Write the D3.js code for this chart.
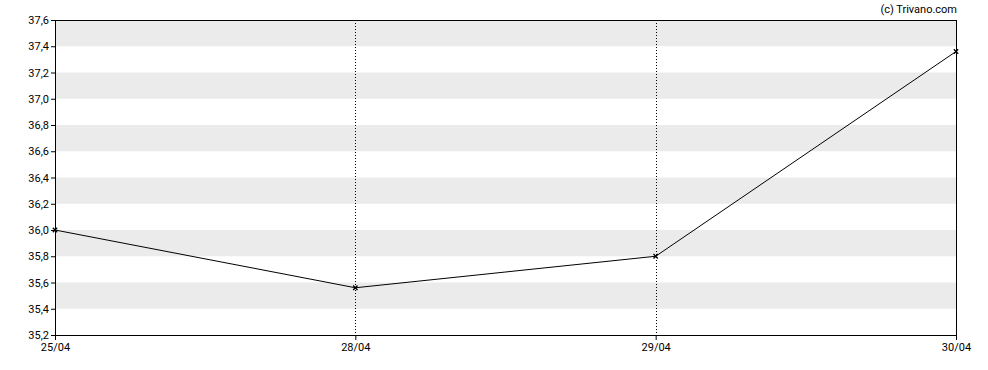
<!DOCTYPE html>
<html>
<head>
<meta charset="utf-8">
<script src="https://cdn.jsdelivr.net/npm/d3@7"></script>
<style>
  body { margin: 0; background: #fff; }
  svg text { font-family: Roboto, "Liberation Sans", sans-serif; font-size: 11px; fill: #000; }
</style>
</head>
<body>
<div id="chart"></div>
<script>
const dates = ['25/04', '28/04', '29/04', '30/04'];
const prices = [36.0, 35.56, 35.8, 37.36];
const yTicks = [35.2, 35.4, 35.6, 35.8, 36.0, 36.2, 36.4, 36.6, 36.8, 37.0, 37.2, 37.4, 37.6];

const width = 988, height = 370;
const margin = { top: 20, right: 32, bottom: 35, left: 55 };
const w = width - margin.left - margin.right;
const h = height - margin.top - margin.bottom;

const svg = d3.select('#chart').append('svg')
    .attr('width', width)
    .attr('height', height);

const g = svg.append('g')
    .attr('transform', `translate(${margin.left},${margin.top})`);

const x = d3.scalePoint().domain(dates).range([0, w]);
const y = d3.scaleLinear().domain([35.2, 37.6]).range([h, 0]);

// alternating bands
const bands = d3.pairs(yTicks).filter((p, i) => i % 2 === 1);
g.selectAll('.band')
    .data(bands)
    .enter()
    .append('rect')
    .attr('x', 0)
    .attr('width', w)
    .attr('y', d => y(d[1]))
    .attr('height', d => y(d[0]) - y(d[1]))
    .attr('fill', '#ebebeb');

// vertical dotted grid lines at inner dates
g.selectAll('.vgrid')
    .data(dates.slice(1, -1))
    .enter()
    .append('line')
    .attr('x1', d => Math.round(x(d)) + 0.5)
    .attr('x2', d => Math.round(x(d)) + 0.5)
    .attr('y1', 0)
    .attr('y2', h)
    .attr('stroke', '#000')
    .attr('stroke-dasharray', '1,2');

// frame
g.append('rect')
    .attr('x', 0.5)
    .attr('y', 0.5)
    .attr('width', w)
    .attr('height', h)
    .attr('fill', 'none')
    .attr('stroke', '#000');

// axes
const yAxis = g.append('g')
    .call(d3.axisLeft(y).tickValues(yTicks).tickSize(4).tickPadding(2)
        .tickFormat(d => d3.format('.1f')(d).replace('.', ',')));
yAxis.select('.domain').remove();
yAxis.selectAll('line').attr('stroke', '#000');

const xAxis = g.append('g')
    .attr('transform', `translate(0,${h})`)
    .call(d3.axisBottom(x).tickSize(5).tickPadding(3));
xAxis.select('.domain').remove();
xAxis.selectAll('line').attr('stroke', '#000');

// price line
const line = d3.line()
    .x((d, i) => x(dates[i]))
    .y(d => y(d));

g.append('path')
    .datum(prices)
    .attr('d', line)
    .attr('fill', 'none')
    .attr('stroke', '#000')
    .attr('stroke-width', 1);

// markers
g.selectAll('.marker')
    .data(prices)
    .enter()
    .append('path')
    .attr('transform', (d, i) => `translate(${x(dates[i])},${y(d)})`)
    .attr('d', d3.symbol(d3.symbolTimes, 14))
    .attr('fill', 'none')
    .attr('stroke', '#000')
    .attr('stroke-width', 1.3);

// credit
svg.append('text')
    .attr('x', 957)
    .attr('y', 13)
    .attr('text-anchor', 'end')
    .text('(c) Trivano.com');
</script>
</body>
</html>
